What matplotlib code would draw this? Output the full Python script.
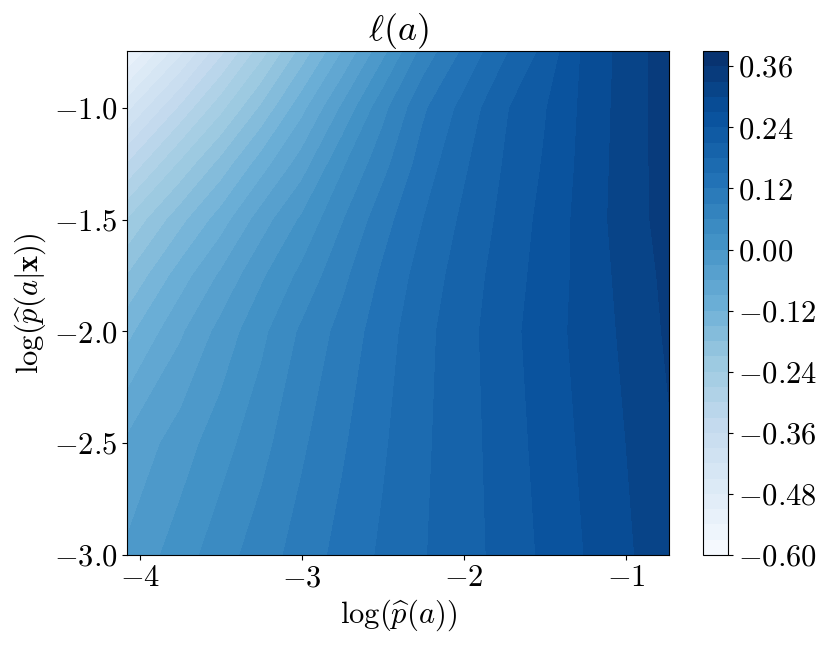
"""Filled contour of l(a) over log p(a) and log p(a|x)."""

import matplotlib
matplotlib.use("Agg")
import matplotlib.pyplot as plt
import numpy as np

plt.rcParams["font.family"] = "serif"
plt.rcParams["font.serif"] = ["cmr10"]
plt.rcParams["mathtext.fontset"] = "cm"
plt.rcParams["axes.formatter.use_mathtext"] = True
plt.rcParams["font.size"] = 22
plt.rcParams["axes.unicode_minus"] = True

# grid
log_pa = [-4.08, -3.75, -3.5, -3.25, -3.0, -2.75, -2.5, -2.25,
          -2.0, -1.75, -1.5, -1.25, -1.0, -0.735]
log_pax = [-3.0, -2.5, -2.0, -1.75, -1.5, -1.25, -1.0, -0.745]

# one row per log_pax value (bottom to top)
ell_y300 = [-0.025, 0.015, 0.047, 0.075, 0.103, 0.130, 0.155, 0.178,
            0.198, 0.220, 0.246, 0.271, 0.295, 0.320]
ell_y250 = [-0.055, -0.015, 0.017, 0.050, 0.085, 0.116, 0.146, 0.175,
            0.198, 0.224, 0.251, 0.276, 0.300, 0.327]
ell_y200 = [-0.130, -0.065, -0.020, 0.022, 0.065, 0.100, 0.136, 0.171,
            0.199, 0.228, 0.256, 0.281, 0.306, 0.335]
ell_y175 = [-0.180, -0.105, -0.055, -0.005, 0.038, 0.082, 0.125, 0.163,
            0.194, 0.224, 0.252, 0.281, 0.310, 0.338]
ell_y150 = [-0.240, -0.160, -0.105, -0.045, 0.005, 0.058, 0.108, 0.150,
            0.186, 0.218, 0.249, 0.282, 0.315, 0.342]
ell_y125 = [-0.330, -0.235, -0.170, -0.105, -0.045, 0.025, 0.080, 0.134,
            0.175, 0.212, 0.243, 0.280, 0.314, 0.344]
ell_y100 = [-0.430, -0.325, -0.250, -0.175, -0.100, -0.025, 0.050, 0.115,
            0.160, 0.206, 0.238, 0.278, 0.313, 0.345]
ell_y075 = [-0.550, -0.430, -0.340, -0.255, -0.170, -0.090, -0.010, 0.070,
            0.125, 0.175, 0.218, 0.277, 0.311, 0.347]

ell = np.array([ell_y300, ell_y250, ell_y200, ell_y175,
                ell_y150, ell_y125, ell_y100, ell_y075])
levels = np.linspace(-0.60, 0.39, 34)

fig = plt.figure(figsize=(8.31, 6.49), dpi=100)
ax = fig.add_axes([127 / 831, 1 - 555 / 649, 542 / 831, 504 / 649])
cax = fig.add_axes([703 / 831, 1 - 555 / 649, 25 / 831, 504 / 649])

X, Y = np.meshgrid(log_pa, log_pax)
cs = ax.contourf(X, Y, ell, levels=levels, cmap="Blues")
cbar = fig.colorbar(cs, cax=cax)
cbar.set_ticks([-0.60, -0.48, -0.36, -0.24, -0.12, 0.00, 0.12, 0.24, 0.36])

ax.set_xlim(log_pa[0], log_pa[-1])
ax.set_ylim(log_pax[0], log_pax[-1])
ax.set_xticks([-4, -3, -2, -1])
ax.set_yticks([-3.0, -2.5, -2.0, -1.5, -1.0])

ax.set_title(r"$\ell(a)$", fontsize=26, pad=6)
ax.set_xlabel(r"$\log(\widehat{p}(a))$", labelpad=4)
ax.set_ylabel(r"$\log(\widehat{p}(a|\mathbf{x}))$", labelpad=4)

fig.savefig("out.png", dpi=100)
